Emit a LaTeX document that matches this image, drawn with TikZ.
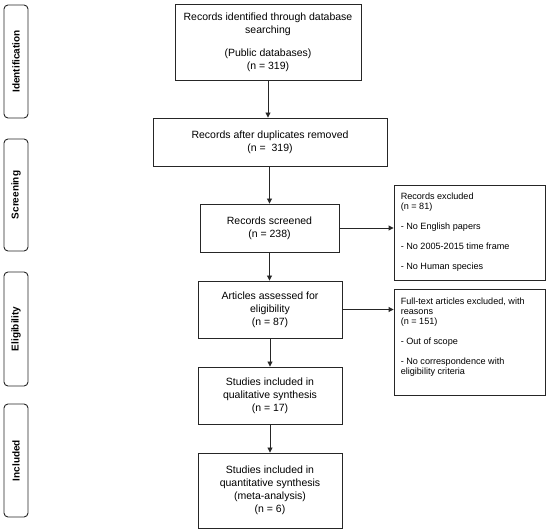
\documentclass[tikz,border=0pt]{standalone}
\usepackage{fontspec}
\setmainfont{Liberation Sans}
\usetikzlibrary{arrows.meta,calc}
\tikzset{
  ln/.style={draw=black!85, line width=0.9pt},
  mainbox/.style={ln, rectangle, align=center, inner sep=0pt,
    font=\fontsize{10.5}{13}\selectfont},
  exbox/.style={ln, rectangle, inner sep=0pt},
  extext/.style={anchor=north west, align=left, inner sep=0pt,
    font=\fontsize{9.1}{10}\selectfont},
  phase/.style={ln, rounded corners=4pt, rectangle, inner sep=0pt},
  phasetext/.style={rotate=90, font=\bfseries\fontsize{10}{12}\selectfont},
  arr/.style={ln, -{Triangle[length=5pt,width=5pt]}},
}
\begin{document}
\begin{tikzpicture}[x=1pt,y=-1pt]
\useasboundingbox (0,0) rectangle (550,532);
% phase labels
\node[phase, minimum width=24pt, minimum height=113pt] (pid) at (16,61.5) {};
\node[phasetext] (pidt) at (pid.center) {Identification};
\node[phase, minimum width=24pt, minimum height=112pt] (psc) at (16,195) {};
\node[phasetext] (psct) at (psc.center) {Screening};
\node[phase, minimum width=24pt, minimum height=114pt] (pel) at (16,329) {};
\node[phasetext] (pelt) at (pel.center) {Eligibility};
\node[phase, minimum width=24pt, minimum height=113pt] (pin) at (16,460.5) {};
\node[phasetext] (pint) at (pin.center) {Included};
% main boxes
\node[mainbox, minimum width=186pt, minimum height=76pt] (b1) at (268,42)
  {Records identified through database\\searching\\[10pt](Public databases)\\(n = 319)};
\node[mainbox, minimum width=234pt, minimum height=48pt] (b2) at (270,142)
  {Records after duplicates removed\\(n =\ \ 319)};
\node[mainbox, minimum width=139pt, minimum height=48pt] (b3) at (269.5,228)
  {Records screened\\(n = 238)};
\node[mainbox, minimum width=144pt, minimum height=57pt] (b4) at (270,309.5)
  {Articles assessed for\\eligibility\\(n = 87)};
\node[mainbox, minimum width=144pt, minimum height=57pt] (b5) at (270,395.5)
  {Studies included in\\qualitative synthesis\\(n = 17)};
\node[mainbox, minimum width=144pt, minimum height=75pt] (b6) at (270,490.5)
  {Studies included in\\quantitative synthesis\\(meta-analysis)\\(n = 6)};
% exclusion boxes
\node[exbox, minimum width=151pt, minimum height=95pt] (e1) at (469.5,232.5) {};
\node[extext] (e1t) at ($(e1.north west)+(7,8)$)
  {Records excluded\\(n = 81)\\[10pt]- No English papers\\[10pt]- No 2005-2015 time frame\\[10pt]- No Human species};
\node[exbox, minimum width=151pt, minimum height=106pt] (e2) at (469.5,342) {};
\node[extext] (e2t) at ($(e2.north west)+(7,9)$)
  {Full-text articles excluded, with\\reasons\\(n = 151)\\[10pt]- Out of scope\\[10pt]- No correspondence with\\eligibility criteria};
% connectors
\draw[arr] (b1.south) -- (b1.south |- b2.north);
\draw[arr] (b2.south -| b3.north) -- (b3.north);
\draw[arr] (b3.south) -- (b3.south |- b4.north);
\draw[arr] (b4.south) -- (b5.north);
\draw[arr] (b5.south) -- (b6.north);
\draw[arr] (b3.east) -- (b3.east -| e1.west);
\draw[arr] (b4.east) -- (b4.east -| e2.west);
\end{tikzpicture}
\end{document}
